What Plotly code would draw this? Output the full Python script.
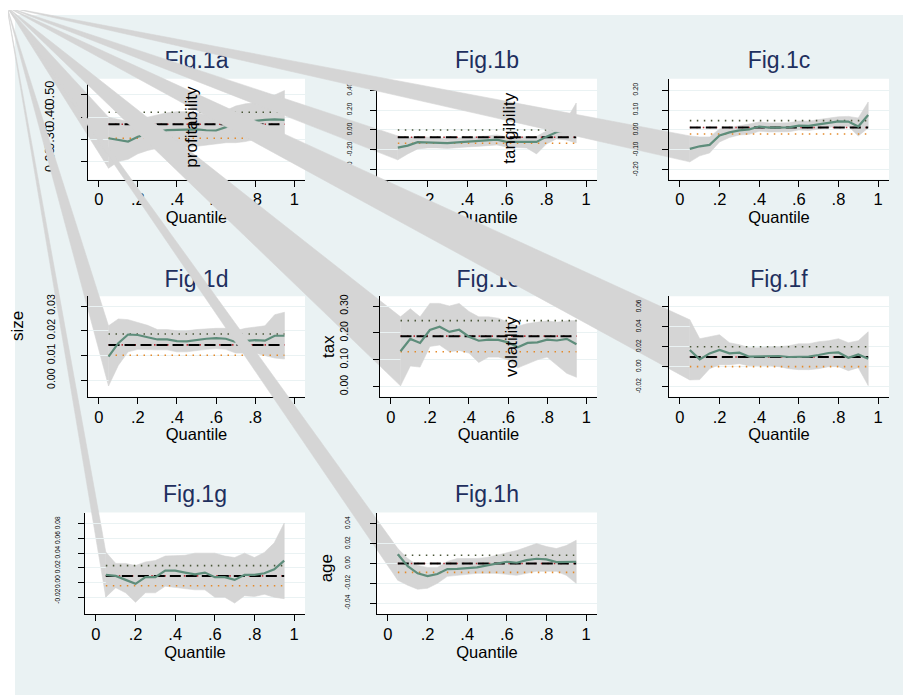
import plotly.graph_objects as go

W, H = 911, 695
OFF = 8  # the page body margin of the browser: the figure starts 8 px right/down

# ---------------- data ----------------
quantiles = [0.05, 0.10, 0.15, 0.20, 0.25, 0.30, 0.35, 0.40, 0.45, 0.50,
             0.55, 0.60, 0.65, 0.70, 0.75, 0.80, 0.85, 0.90, 0.95]
x_tickvals = [0, 0.2, 0.4, 0.6, 0.8, 1]
x_ticktext = ["0", ".2", ".4", ".6", ".8", "1"]

titles = ["Fig.1a", "Fig.1b", "Fig.1c", "Fig.1d", "Fig.1e", "Fig.1f", "Fig.1g", "Fig.1h"]

coef_a = [0.305, 0.298, 0.290, 0.312, 0.325, 0.335, 0.342, 0.343, 0.344, 0.345,
          0.341, 0.340, 0.355, 0.365, 0.375, 0.383, 0.388, 0.390, 0.388]
upper_a = [0.40, 0.39, 0.38, 0.39, 0.40, 0.41, 0.42, 0.425, 0.425, 0.42,
           0.41, 0.41, 0.43, 0.45, 0.46, 0.465, 0.48, 0.50, 0.52]
lower_a = [0.17, 0.20, 0.21, 0.235, 0.25, 0.26, 0.265, 0.262, 0.263, 0.27,
           0.275, 0.28, 0.285, 0.285, 0.29, 0.30, 0.30, 0.29, 0.26]
ols_a = [0.368, 0.422, 0.305]   # estimate, upper, lower

coef_b = [-0.177, -0.157, -0.123, -0.125, -0.130, -0.133, -0.125, -0.120, -0.115, -0.110,
          -0.098, -0.120, -0.122, -0.120, -0.120, -0.067, -0.023, -0.010, -0.005]
upper_b = [-0.06, -0.08, -0.07, -0.07, -0.08, -0.085, -0.08, -0.075, -0.065, -0.06,
           -0.05, -0.07, -0.07, -0.07, -0.065, -0.01, 0.03, 0.10, 0.27]
lower_b = [-0.30, -0.24, -0.19, -0.18, -0.18, -0.185, -0.175, -0.17, -0.165, -0.16,
           -0.15, -0.17, -0.175, -0.18, -0.24, -0.14, -0.09, -0.10, -0.13]
ols_b = [-0.073, 0.000, -0.133]

coef_c = [-0.095, -0.082, -0.075, -0.028, -0.012, -0.002, 0.003, 0.017, 0.012, 0.012,
          0.013, 0.022, 0.020, 0.028, 0.037, 0.043, 0.042, 0.017, 0.075]
upper_c = [-0.03, -0.035, -0.035, 0.005, 0.012, 0.02, 0.03, 0.04, 0.035, 0.035,
           0.036, 0.045, 0.044, 0.052, 0.06, 0.066, 0.068, 0.06, 0.14]
lower_c = [-0.16, -0.13, -0.115, -0.06, -0.038, -0.025, -0.022, -0.006, -0.01, -0.01,
           -0.009, 0.0, -0.003, 0.005, 0.014, 0.02, 0.018, -0.03, 0.01]
ols_c = [0.012, 0.047, -0.020]

coef_d = [0.0096, 0.0150, 0.0185, 0.0183, 0.0174, 0.0165, 0.0165, 0.0158, 0.0157, 0.0163,
          0.0168, 0.0170, 0.0168, 0.0155, 0.0160, 0.0162, 0.0160, 0.0180, 0.0180]
upper_d = [0.0220, 0.0248, 0.0245, 0.0235, 0.0222, 0.0205, 0.0205, 0.0200, 0.0200, 0.0205,
           0.0208, 0.0210, 0.0210, 0.0200, 0.0210, 0.0215, 0.0220, 0.0265, 0.0275]
lower_d = [-0.0023, 0.0060, 0.0115, 0.0125, 0.0125, 0.0123, 0.0123, 0.0115, 0.0115, 0.0120,
           0.0125, 0.0128, 0.0125, 0.0110, 0.0110, 0.0110, 0.0100, 0.0090, 0.0086]
ols_d = [0.0143, 0.0187, 0.0101]

coef_e = [0.132, 0.178, 0.163, 0.211, 0.223, 0.204, 0.212, 0.186, 0.171, 0.175,
          0.174, 0.165, 0.147, 0.163, 0.165, 0.175, 0.172, 0.178, 0.158]
upper_e = [0.26, 0.29, 0.26, 0.31, 0.31, 0.30, 0.31, 0.28, 0.26, 0.26,
           0.255, 0.24, 0.225, 0.235, 0.24, 0.245, 0.24, 0.245, 0.246]
lower_e = [0.003, 0.077, 0.073, 0.15, 0.155, 0.13, 0.135, 0.125, 0.09, 0.11,
           0.11, 0.10, 0.07, 0.085, 0.10, 0.11, 0.08, 0.05, 0.035]
ols_e = [0.188, 0.246, 0.130]

coef_f = [0.0167, 0.0073, 0.0133, 0.0167, 0.0133, 0.0140, 0.0100, 0.0100, 0.0107, 0.0107,
          0.0097, 0.0097, 0.0100, 0.0117, 0.0137, 0.0143, 0.0090, 0.0123, 0.0080]
upper_f = [0.047, 0.028, 0.030, 0.032, 0.024, 0.022, 0.019, 0.019, 0.020, 0.020,
           0.021, 0.023, 0.023, 0.025, 0.026, 0.028, 0.024, 0.026, 0.035]
lower_f = [-0.0133, -0.013, -0.002, 0.002, 0.002, 0.003, 0.001, 0.001, 0.001, 0.0,
           -0.002, -0.003, -0.003, -0.002, 0.0, 0.0, -0.004, -0.001, -0.019]
ols_f = [0.0097, 0.020, 0.000]

coef_g = [0.0104, 0.0090, 0.0036, -0.0018, 0.0073, 0.0073, 0.0162, 0.0162, 0.0135, 0.0110,
          0.0135, 0.0073, 0.0073, 0.0036, 0.0104, 0.0104, 0.0126, 0.0180, 0.0297]
upper_g = [0.0414, 0.026, 0.026, 0.023, 0.028, 0.030, 0.036, 0.037, 0.037, 0.040,
           0.040, 0.040, 0.036, 0.034, 0.040, 0.034, 0.041, 0.054, 0.081]
lower_g = [-0.020, -0.007, -0.014, -0.027, -0.014, -0.014, -0.005, -0.006, -0.008, -0.010,
           -0.010, -0.020, -0.020, -0.028, -0.018, -0.019, -0.016, -0.020, -0.022]
ols_g = [0.009, 0.023, -0.0045]

coef_h = [0.0093, -0.0027, -0.0100, -0.0127, -0.0107, -0.0057, -0.0055, -0.0050, -0.0040, -0.0020,
          0.0000, 0.0017, 0.0007, 0.0033, 0.0047, 0.0040, 0.0013, 0.0013, 0.0017]
upper_h = [0.015, 0.005, -0.002, -0.004, -0.004, 0.002, 0.005, 0.005, 0.005, 0.006,
           0.008, 0.0107, 0.013, 0.0167, 0.020, 0.017, 0.015, 0.018, 0.0233]
lower_h = [-0.017, -0.022, -0.026, -0.025, -0.020, -0.013, -0.012, -0.011, -0.010, -0.010,
           -0.010, -0.011, -0.012, -0.010, -0.008, -0.008, -0.008, -0.012, -0.020]
ols_h = [0.000, 0.0083, -0.009]

yt_a = [0.2, 0.3, 0.4, 0.5];            yl_a = ["0.20", "0.30", "0.40", "0.50"]
yt_b = [-0.4, -0.2, 0, 0.2, 0.4];       yl_b = ["-0.40", "-0.20", "0.00", "0.20", "0.40"]
yt_c = [-0.2, -0.1, 0, 0.1, 0.2];       yl_c = ["-0.20", "-0.10", "0.00", "0.10", "0.20"]
yt_d = [0, 0.01, 0.02, 0.03];           yl_d = ["0.00", "0.01", "0.02", "0.03"]
yt_e = [0, 0.1, 0.2, 0.3];              yl_e = ["0.00", "0.10", "0.20", "0.30"]
yt_f = [-0.02, 0, 0.02, 0.04, 0.06];    yl_f = ["-0.02", "0.00", "0.02", "0.04", "0.06"]
yt_g = [-0.02, 0, 0.02, 0.04, 0.06, 0.08]; yl_g = ["-0.02", "0.00", "0.02", "0.04", "0.06", "0.08"]
yt_h = [-0.04, -0.02, 0, 0.02, 0.04];   yl_h = ["-0.04", "-0.02", "0.00", "0.02", "0.04"]

# ---------------- layout / style ----------------
FONT = "Liberation Sans, Arial, sans-serif"
BG = "#EAF2F3"
BAND = "#d5d5d5"
GREEN = "#5e8d7b"
NAVY = "#1e2f5e"
XR = [-0.055, 1.055]
CORNER = (7, 5)   # page pixel where the shaded-area polygons start (artefact of the original)
FW, FH = W - OFF, H - OFF  # figure size

geom = [  # page-pixel box of each plot region, y range, tick font, label standoff
    dict(px=(88, 305), py=(77, 178), yr=(0.119, 0.573), fs=12.8, so=22),
    dict(px=(377, 597), py=(77, 178), yr=(-0.497, 0.513), fs=6.5, so=15),
    dict(px=(669, 889), py=(77, 178), yr=(-0.2485, 0.2565), fs=6.5, so=21),
    dict(px=(88, 305), py=(295, 396), yr=(-0.0067, 0.0340), fs=10.5, so=22),
    dict(px=(380, 597), py=(295, 396), yr=(-0.038, 0.337), fs=10.5, so=21),
    dict(px=(669, 889), py=(295, 396), yr=(-0.0303, 0.0707), fs=6.5, so=18),
    dict(px=(85, 305), py=(512, 614), yr=(-0.0432, 0.0953), fs=6.6, so=15),
    dict(px=(377, 597), py=(512, 614), yr=(-0.0512, 0.0513), fs=6.5, so=17),
]
title_y = [60, 60, 60, 280, 280, 280, 496, 496]
quant_y = [217, 217, 217, 435, 435, 435, 654, 654]

series = [
    (coef_a, upper_a, lower_a, ols_a, yt_a, yl_a),
    (coef_b, upper_b, lower_b, ols_b, yt_b, yl_b),
    (coef_c, upper_c, lower_c, ols_c, yt_c, yl_c),
    (coef_d, upper_d, lower_d, ols_d, yt_d, yl_d),
    (coef_e, upper_e, lower_e, ols_e, yt_e, yl_e),
    (coef_f, upper_f, lower_f, ols_f, yt_f, yl_f),
    (coef_g, upper_g, lower_g, ols_g, yt_g, yl_g),
    (coef_h, upper_h, lower_h, ols_h, yt_h, yl_h),
]


def fx(p):   # page pixel -> paper fraction
    return (p - OFF) / FW


def fy(p):
    return 1 - (p - OFF) / FH


def px_x(g, v):
    return g["px"][0] + (v - XR[0]) / (XR[1] - XR[0]) * (g["px"][1] - g["px"][0])


def px_y(g, v):
    return g["py"][1] - (v - g["yr"][0]) / (g["yr"][1] - g["yr"][0]) * (g["py"][1] - g["py"][0])


def aid(k):
    return "" if k == 1 else str(k)


fig = go.Figure()
shapes = [dict(type="rect", xref="paper", yref="paper", x0=fx(15), x1=1, y0=0, y1=fy(13),
               fillcolor=BG, line=dict(width=0), layer="below")]
layout = {}

for i, (g, (coef, up, lo, ols, ytv, ytl)) in enumerate(zip(geom, series)):
    ko, kp = 2 * i + 1, 2 * i + 2
    xo, yo, xp, yp = "x" + aid(ko), "y" + aid(ko), "x" + aid(kp), "y" + aid(kp)

    # full-figure page-pixel axes (for the wedge artefact and the texts of this panel)
    layout["xaxis" + aid(ko)] = dict(domain=[0, 1], range=[OFF, W], visible=False, fixedrange=True, anchor=yo)
    layout["yaxis" + aid(ko)] = dict(domain=[0, 1], range=[H, OFF], visible=False, fixedrange=True, anchor=xo)

    q0 = quantiles[0]
    fig.add_trace(go.Scatter(
        x=[CORNER[0], px_x(g, q0), px_x(g, q0), CORNER[0]],
        y=[CORNER[1], px_y(g, up[0]), px_y(g, lo[0]), CORNER[1]],
        xaxis=xo, yaxis=yo, mode="lines", fill="toself", fillcolor=BAND,
        line=dict(width=0.6, color=BAND), hoverinfo="skip", showlegend=False))
    cx = px_x(g, 0.5)
    fig.add_trace(go.Scatter(
        x=[cx, cx], y=[title_y[i], quant_y[i]], xaxis=xo, yaxis=yo, mode="text",
        text=[titles[i], "Quantile"], textposition="middle center",
        textfont=dict(family=FONT, size=[23, 16.5], color=[NAVY, "black"]),
        hoverinfo="skip", showlegend=False))

    # the panel itself
    x0, x1 = g["px"]
    y0, y1 = g["py"]
    shapes.append(dict(type="rect", xref="paper", yref="paper", x0=fx(x0), x1=fx(x1),
                       y0=fy(y1), y1=fy(y0), fillcolor="white", line=dict(width=0), layer="below"))
    layout["xaxis" + aid(kp)] = dict(
        domain=[fx(x0), fx(x1)], range=XR, anchor=yp, tickvals=x_tickvals, ticktext=x_ticktext,
        ticks="outside", ticklen=6, tickwidth=1, tickcolor="black", showline=True, linecolor="black",
        linewidth=1.2, showgrid=False, zeroline=False, fixedrange=True, ticklabelstandoff=-1,
        tickfont=dict(family=FONT, size=16.5, color="black"))
    layout["yaxis" + aid(kp)] = dict(
        domain=[fy(y1), fy(y0)], range=list(g["yr"]), anchor=xp, tickvals=ytv, ticktext=ytl,
        tickangle=-90, ticks="outside", ticklen=6, tickwidth=1, tickcolor="black", showline=True,
        linecolor="black", linewidth=1.2, showgrid=True, gridcolor=BG, gridwidth=1.2, zeroline=False,
        fixedrange=True, ticklabelstandoff=g["so"], tickfont=dict(family=FONT, size=g["fs"], color="black"))

    fig.add_trace(go.Scatter(
        x=quantiles + quantiles[::-1], y=up + lo[::-1], xaxis=xp, yaxis=yp, mode="lines",
        fill="toself", fillcolor=BAND, line=dict(width=0.6, color=BAND), hoverinfo="skip", showlegend=False))
    xe = [quantiles[0], quantiles[-1]]
    fig.add_trace(go.Scatter(x=xe, y=[ols[0]] * 2, xaxis=xp, yaxis=yp, mode="lines",
                             line=dict(color="#b8323a", width=1.6, dash="1.5px,5px"), showlegend=False))
    fig.add_trace(go.Scatter(x=xe, y=[ols[0]] * 2, xaxis=xp, yaxis=yp, mode="lines",
                             line=dict(color="black", width=2, dash="11px,5px"), showlegend=False))
    fig.add_trace(go.Scatter(x=xe, y=[ols[1]] * 2, xaxis=xp, yaxis=yp, mode="lines",
                             line=dict(color="#4a5638", width=1.6, dash="1.5px,5.5px"), showlegend=False))
    fig.add_trace(go.Scatter(x=xe, y=[ols[2]] * 2, xaxis=xp, yaxis=yp, mode="lines",
                             line=dict(color="#e48a2a", width=1.6, dash="1.5px,5.5px"), showlegend=False))
    fig.add_trace(go.Scatter(x=quantiles, y=coef, xaxis=xp, yaxis=yp, mode="lines",
                             line=dict(color=GREEN, width=2.2), showlegend=False))

ytitles = [("profitability", 192, 125), ("tangibility", 510, 127), ("size", 17, 325),
           ("tax", 328, 346), ("volatility", 511, 346), ("age", 326, 568)]
annotations = [dict(text=t, x=fx(x), y=fy(y), xref="paper", yref="paper", showarrow=False,
                    textangle=-90, xanchor="center", yanchor="middle",
                    font=dict(family=FONT, size=17, color="black")) for t, x, y in ytitles]

fig.update_layout(
    width=FW, height=FH, autosize=False, margin=dict(l=0, r=0, t=0, b=0, pad=0),
    paper_bgcolor="white", plot_bgcolor="rgba(0,0,0,0)", showlegend=False, hovermode=False,
    shapes=shapes, annotations=annotations, **layout)

fig.write_html("out.html")
